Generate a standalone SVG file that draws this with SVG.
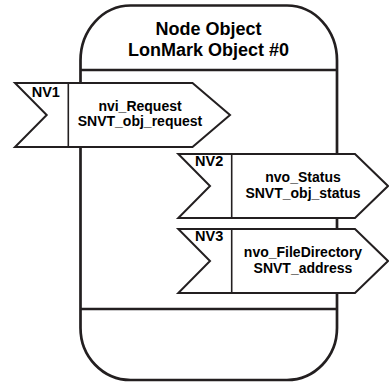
<svg xmlns="http://www.w3.org/2000/svg" width="389" height="382" viewBox="0 0 389 382">
<style>
.body{fill:#ffffff;stroke:#231f20;stroke-width:2.7;}
.line{stroke:#231f20;stroke-width:2.7;fill:none;}
.nv{fill:#ffffff;stroke:#231f20;stroke-width:2;stroke-linejoin:miter;}
.div{stroke:#231f20;stroke-width:1.6;}
.title{font-family:"Liberation Sans",Arial,sans-serif;font-weight:bold;font-size:18px;fill:#000;text-anchor:middle;}
.lbl{font-family:"Liberation Sans",Arial,sans-serif;font-weight:bold;font-size:14px;fill:#000;text-anchor:middle;}
.nvl{font-family:"Liberation Sans",Arial,sans-serif;font-weight:bold;font-size:14.5px;fill:#000;}
</style>
<rect width="389" height="382" fill="#ffffff"/>
<g id="node-object">
<path class="body" d="M80.5,328 L80.5,60.5 A50,55 0 0 1 130.5,5.5 L287,5.5 A50,55 0 0 1 337,60.5 L337,328 A50,52 0 0 1 287,380 L130.5,380 A50,52 0 0 1 80.5,328 Z"/>
<line class="line" x1="80.5" y1="70" x2="337" y2="70"/>
<line class="line" x1="80.5" y1="309" x2="337" y2="309"/>
<text class="title" x="208.5" y="35">Node Object</text>
<text class="title" x="208.5" y="55.5">LonMark Object #0</text>
</g>
<g id="nv1">
<path class="nv" d="M15,83 L192.5,83 L230,115 L192.5,147 L15,147 L46.7,115 Z"/>
<line class="div" x1="68.3" y1="83" x2="68.3" y2="147"/>
<text class="nvl" x="31.7" y="97">NV1</text>
<text class="lbl" x="140" y="111">nvi_Request</text>
<text class="lbl" x="140" y="125.5">SNVT_obj_request</text>
</g>
<g id="nv2">
<path class="nv" d="M178.3,154 L355,154 L388,186 L355,218 L178.3,218 L210,186 Z"/>
<line class="div" x1="231.7" y1="154" x2="231.7" y2="218"/>
<text class="nvl" x="195" y="166">NV2</text>
<text class="lbl" x="303" y="182">nvo_Status</text>
<text class="lbl" x="303" y="197.5">SNVT_obj_status</text>
</g>
<g id="nv3">
<path class="nv" d="M178.3,229 L355,229 L388,261 L355,293 L178.3,293 L210,261 Z"/>
<line class="div" x1="231.7" y1="229" x2="231.7" y2="293"/>
<text class="nvl" x="195" y="241">NV3</text>
<text class="lbl" x="303" y="257">nvo_FileDirectory</text>
<text class="lbl" x="303" y="272.5">SNVT_address</text>
</g>
<g id="connectors"/>
</svg>
